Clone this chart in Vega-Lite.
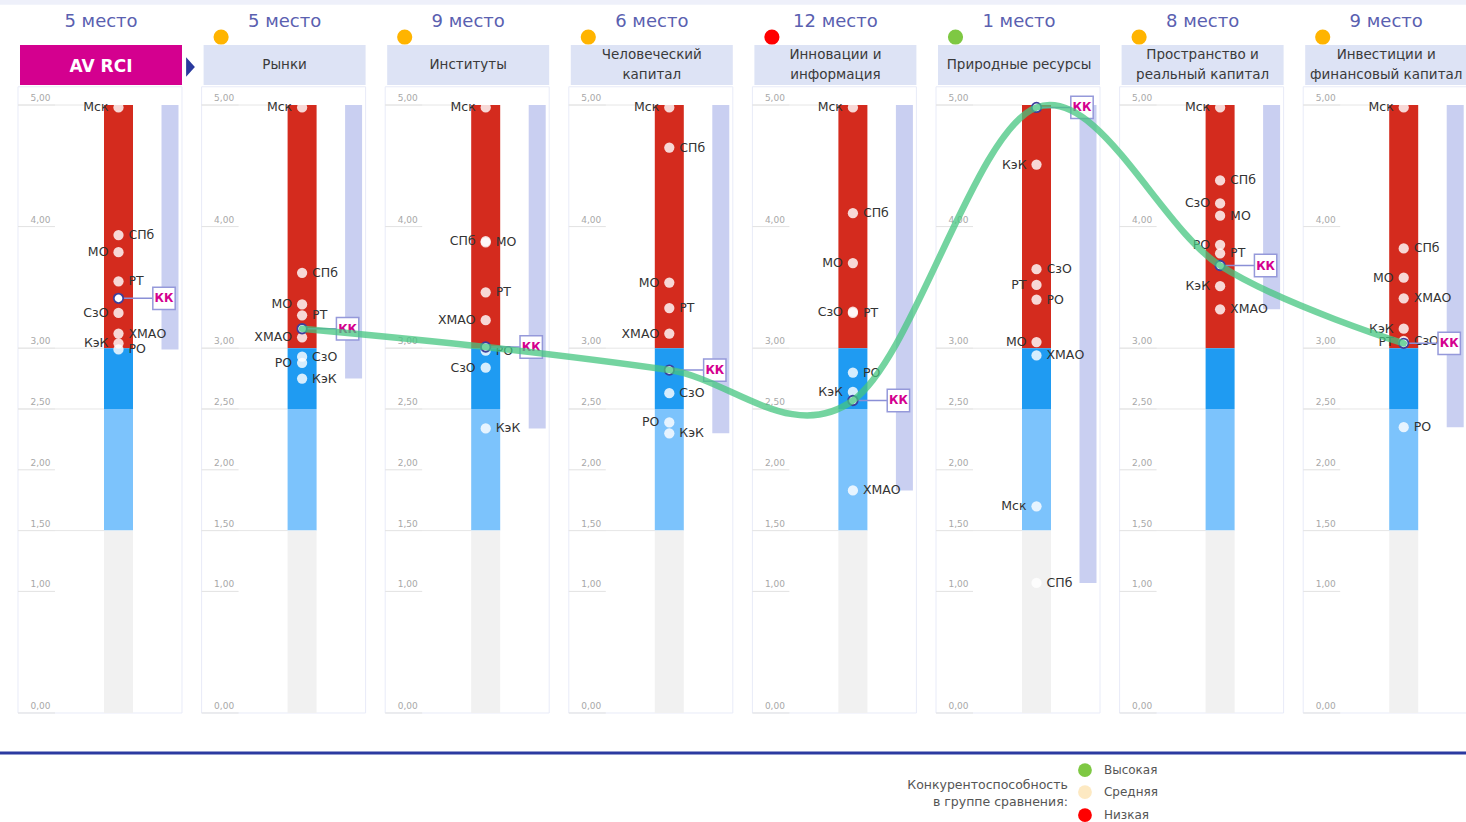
{
  "$schema": "https://vega.github.io/schema/vega-lite/v6.json",
  "width": 1466,
  "height": 822,
  "autosize": {"type": "none"},
  "padding": 0,
  "background": "white",
  "config": {"view": {"stroke": null}, "font": "DejaVu Sans"},
  "datasets": {
    "panels": [
      {"panel": 0, "name": "AV RCI", "rank": "5 место", "comp": null},
      {"panel": 1, "name": "Рынки", "rank": "5 место", "comp": "Средняя"},
      {"panel": 2, "name": "Институты", "rank": "9 место", "comp": "Средняя"},
      {"panel": 3, "name": "Человеческий\nкапитал", "rank": "6 место", "comp": "Средняя"},
      {"panel": 4, "name": "Инновации и\nинформация", "rank": "12 место", "comp": "Низкая"},
      {"panel": 5, "name": "Природные ресурсы", "rank": "1 место", "comp": "Высокая"},
      {"panel": 6, "name": "Пространство и\nреальный капитал", "rank": "8 место", "comp": "Средняя"},
      {"panel": 7, "name": "Инвестиции и\nфинансовый капитал", "rank": "9 место", "comp": "Средняя"}
    ],
    "bands": [
      {"band": "high", "lo": 3, "hi": 5, "panels": [0, 1, 2, 3, 4, 5, 6, 7]},
      {"band": "mid", "lo": 2.5, "hi": 3, "panels": [0, 1, 2, 3, 4, 5, 6, 7]},
      {"band": "low", "lo": 1.5, "hi": 2.5, "panels": [0, 1, 2, 3, 4, 5, 6, 7]},
      {"band": "none", "lo": 0, "hi": 1.5, "panels": [0, 1, 2, 3, 4, 5, 6, 7]}
    ],
    "ticks": [
      {"v": 5, "label": "5,00", "long": true, "panels": [0, 1, 2, 3, 4, 5, 6, 7]},
      {"v": 4, "label": "4,00", "long": false, "panels": [0, 1, 2, 3, 4, 5, 6, 7]},
      {"v": 3, "label": "3,00", "long": true, "panels": [0, 1, 2, 3, 4, 5, 6, 7]},
      {"v": 2.5, "label": "2,50", "long": true, "panels": [0, 1, 2, 3, 4, 5, 6, 7]},
      {"v": 2, "label": "2,00", "long": false, "panels": [0, 1, 2, 3, 4, 5, 6, 7]},
      {"v": 1.5, "label": "1,50", "long": true, "panels": [0, 1, 2, 3, 4, 5, 6, 7]},
      {"v": 1, "label": "1,00", "long": false, "panels": [0, 1, 2, 3, 4, 5, 6, 7]},
      {"v": 0, "label": "0,00", "long": false, "panels": [0, 1, 2, 3, 4, 5, 6, 7]}
    ],
    "dots": [
      {"panel": 0, "region": "Мск", "value": 4.98, "side": "L"},
      {"panel": 0, "region": "СПб", "value": 3.93, "side": "R"},
      {"panel": 0, "region": "МО", "value": 3.79, "side": "L"},
      {"panel": 0, "region": "РТ", "value": 3.55, "side": "R"},
      {"panel": 0, "region": "КК", "value": 3.41, "side": null},
      {"panel": 0, "region": "СзО", "value": 3.29, "side": "L"},
      {"panel": 0, "region": "ХМАО", "value": 3.12, "side": "R"},
      {"panel": 0, "region": "КэК", "value": 3.04, "side": "L"},
      {"panel": 0, "region": "РО", "value": 2.99, "side": "R"},

      {"panel": 1, "region": "Мск", "value": 4.98, "side": "L"},
      {"panel": 1, "region": "СПб", "value": 3.62, "side": "R"},
      {"panel": 1, "region": "МО", "value": 3.36, "side": "L"},
      {"panel": 1, "region": "РТ", "value": 3.27, "side": "R"},
      {"panel": 1, "region": "КК", "value": 3.16, "side": null},
      {"panel": 1, "region": "ХМАО", "value": 3.09, "side": "L"},
      {"panel": 1, "region": "СзО", "value": 2.93, "side": "R"},
      {"panel": 1, "region": "РО", "value": 2.88, "side": "L"},
      {"panel": 1, "region": "КэК", "value": 2.75, "side": "R"},

      {"panel": 2, "region": "Мск", "value": 4.98, "side": "L"},
      {"panel": 2, "region": "СПб", "value": 3.88, "side": "L"},
      {"panel": 2, "region": "МО", "value": 3.87, "side": "R"},
      {"panel": 2, "region": "РТ", "value": 3.46, "side": "R"},
      {"panel": 2, "region": "ХМАО", "value": 3.23, "side": "L"},
      {"panel": 2, "region": "КК", "value": 3.01, "side": null},
      {"panel": 2, "region": "РО", "value": 2.98, "side": "R"},
      {"panel": 2, "region": "СзО", "value": 2.84, "side": "L"},
      {"panel": 2, "region": "КэК", "value": 2.34, "side": "R"},

      {"panel": 3, "region": "Мск", "value": 4.98, "side": "L"},
      {"panel": 3, "region": "СПб", "value": 4.65, "side": "R"},
      {"panel": 3, "region": "МО", "value": 3.54, "side": "L"},
      {"panel": 3, "region": "РТ", "value": 3.33, "side": "R"},
      {"panel": 3, "region": "ХМАО", "value": 3.12, "side": "L"},
      {"panel": 3, "region": "КК", "value": 2.82, "side": null},
      {"panel": 3, "region": "СзО", "value": 2.63, "side": "R"},
      {"panel": 3, "region": "РО", "value": 2.39, "side": "L"},
      {"panel": 3, "region": "КэК", "value": 2.30, "side": "R"},

      {"panel": 4, "region": "Мск", "value": 4.98, "side": "L"},
      {"panel": 4, "region": "СПб", "value": 4.11, "side": "R"},
      {"panel": 4, "region": "МО", "value": 3.70, "side": "L"},
      {"panel": 4, "region": "СзО", "value": 3.30, "side": "L"},
      {"panel": 4, "region": "РТ", "value": 3.29, "side": "R"},
      {"panel": 4, "region": "РО", "value": 2.80, "side": "R"},
      {"panel": 4, "region": "КэК", "value": 2.64, "side": "L"},
      {"panel": 4, "region": "КК", "value": 2.57, "side": null},
      {"panel": 4, "region": "ХМАО", "value": 1.83, "side": "R"},

      {"panel": 5, "region": "КК", "value": 4.98, "side": null},
      {"panel": 5, "region": "КэК", "value": 4.51, "side": "L"},
      {"panel": 5, "region": "СзО", "value": 3.65, "side": "R"},
      {"panel": 5, "region": "РТ", "value": 3.52, "side": "L"},
      {"panel": 5, "region": "РО", "value": 3.40, "side": "R"},
      {"panel": 5, "region": "МО", "value": 3.05, "side": "L"},
      {"panel": 5, "region": "ХМАО", "value": 2.94, "side": "R"},
      {"panel": 5, "region": "Мск", "value": 1.70, "side": "L"},
      {"panel": 5, "region": "СПб", "value": 1.07, "side": "R"},

      {"panel": 6, "region": "Мск", "value": 4.98, "side": "L"},
      {"panel": 6, "region": "СПб", "value": 4.38, "side": "R"},
      {"panel": 6, "region": "СзО", "value": 4.19, "side": "L"},
      {"panel": 6, "region": "МО", "value": 4.09, "side": "R"},
      {"panel": 6, "region": "РО", "value": 3.85, "side": "L"},
      {"panel": 6, "region": "РТ", "value": 3.78, "side": "R"},
      {"panel": 6, "region": "КК", "value": 3.68, "side": null},
      {"panel": 6, "region": "КэК", "value": 3.51, "side": "L"},
      {"panel": 6, "region": "ХМАО", "value": 3.32, "side": "R"},

      {"panel": 7, "region": "Мск", "value": 4.98, "side": "L"},
      {"panel": 7, "region": "СПб", "value": 3.82, "side": "R"},
      {"panel": 7, "region": "МО", "value": 3.58, "side": "L"},
      {"panel": 7, "region": "ХМАО", "value": 3.41, "side": "R"},
      {"panel": 7, "region": "КэК", "value": 3.16, "side": "L"},
      {"panel": 7, "region": "СзО", "value": 3.06, "side": "R"},
      {"panel": 7, "region": "РТ", "value": 3.05, "side": "L"},
      {"panel": 7, "region": "КК", "value": 3.04, "side": null},
      {"panel": 7, "region": "РО", "value": 2.35, "side": "R"}
    ]
  },
  "layer": [
    {
      "data": {"values": [{}]},
      "mark": {"type": "rule", "color": "#eef0fa", "strokeWidth": 5},
      "encoding": {
        "y": {"datum": 5.845, "type": "quantitative", "scale": {"domain": [-0.8964, 5.8635], "nice": false, "zero": false}, "axis": null}
      }
    },
    {
      "data": {"name": "panels"},
      "mark": {"type": "rect", "fill": "white", "stroke": "#e8ebf8", "strokeWidth": 1, "xOffset": -100.5, "x2Offset": 63.5},
      "encoding": {
        "x": {"field": "panel", "type": "quantitative", "scale": {"domain": [-0.6454, 7.3393], "nice": false, "zero": false}, "axis": null},
        "x2": {"field": "panel"},
        "y": {"datum": 0, "type": "quantitative", "scale": {"domain": [-0.8964, 5.8635], "nice": false, "zero": false}, "axis": null},
        "y2": {"datum": 5.15}
      }
    },
    {
      "data": {"name": "ticks"},
      "transform": [{"flatten": ["panels"], "as": ["panel"]}],
      "mark": {"type": "rule", "color": "#e2e2e2", "strokeWidth": 1, "xOffset": -100.5, "x2Offset": -63.5},
      "encoding": {
        "x": {"field": "panel", "type": "quantitative", "scale": {"domain": [-0.6454, 7.3393], "nice": false, "zero": false}, "axis": null},
        "x2": {"field": "panel"},
        "y": {"field": "v", "type": "quantitative", "scale": {"domain": [-0.8964, 5.8635], "nice": false, "zero": false}, "axis": null}
      }
    },
    {
      "data": {"name": "ticks"},
      "transform": [{"flatten": ["panels"], "as": ["panel"]}, {"filter": "datum.long"}],
      "mark": {"type": "rule", "color": "#e6e6e6", "strokeWidth": 1, "xOffset": -100.5, "x2Offset": -14.5},
      "encoding": {
        "x": {"field": "panel", "type": "quantitative", "scale": {"domain": [-0.6454, 7.3393], "nice": false, "zero": false}, "axis": null},
        "x2": {"field": "panel"},
        "y": {"field": "v", "type": "quantitative", "scale": {"domain": [-0.8964, 5.8635], "nice": false, "zero": false}, "axis": null}
      }
    },
    {
      "data": {"name": "ticks"},
      "transform": [{"flatten": ["panels"], "as": ["panel"]}],
      "mark": {"type": "text", "fontSize": 9, "color": "#a8a8a8", "align": "center", "baseline": "bottom", "xOffset": -78, "dy": -2},
      "encoding": {
        "x": {"field": "panel", "type": "quantitative", "scale": {"domain": [-0.6454, 7.3393], "nice": false, "zero": false}, "axis": null},
        "y": {"field": "v", "type": "quantitative", "scale": {"domain": [-0.8964, 5.8635], "nice": false, "zero": false}, "axis": null},
        "text": {"field": "label"}
      }
    },
    {
      "data": {"name": "bands"},
      "transform": [{"flatten": ["panels"], "as": ["panel"]}],
      "mark": {"type": "rect", "xOffset": -14.5, "x2Offset": 14.5},
      "encoding": {
        "x": {"field": "panel", "type": "quantitative", "scale": {"domain": [-0.6454, 7.3393], "nice": false, "zero": false}, "axis": null},
        "x2": {"field": "panel"},
        "y": {"field": "lo", "type": "quantitative", "scale": {"domain": [-0.8964, 5.8635], "nice": false, "zero": false}, "axis": null},
        "y2": {"field": "hi"},
        "color": {"field": "band", "type": "nominal", "scale": {"domain": ["high", "mid", "low", "none"], "range": ["#d42b1e", "#1f9bf2", "#7cc3fc", "#f1f1f1"]}, "legend": null}
      }
    },
    {
      "data": {"name": "dots"},
      "transform": [{"aggregate": [{"op": "min", "field": "value", "as": "lo"}], "groupby": ["panel"]}],
      "mark": {"type": "rect", "color": "#c9cff1", "xOffset": 43, "x2Offset": 60},
      "encoding": {
        "x": {"field": "panel", "type": "quantitative", "scale": {"domain": [-0.6454, 7.3393], "nice": false, "zero": false}, "axis": null},
        "x2": {"field": "panel"},
        "y": {"field": "lo", "type": "quantitative", "scale": {"domain": [-0.8964, 5.8635], "nice": false, "zero": false}, "axis": null},
        "y2": {"datum": 5}
      }
    },
    {
      "data": {"name": "panels"},
      "mark": {"type": "rect", "xOffset": -98.5, "x2Offset": 63.5},
      "encoding": {
        "x": {"field": "panel", "type": "quantitative", "scale": {"domain": [-0.6454, 7.3393], "nice": false, "zero": false}, "axis": null},
        "x2": {"field": "panel"},
        "y": {"datum": 5.164, "type": "quantitative", "scale": {"domain": [-0.8964, 5.8635], "nice": false, "zero": false}, "axis": null},
        "y2": {"datum": 5.493},
        "color": {"condition": {"test": "datum.panel === 0", "value": "#d4008f"}, "value": "#dde3f5"}
      }
    },
    {
      "data": {"name": "panels"},
      "transform": [{"filter": "datum.panel === 0"}],
      "mark": {"type": "text", "fontSize": 17, "fontWeight": "bold", "color": "white", "align": "center", "baseline": "middle", "xOffset": -17.5},
      "encoding": {
        "x": {"field": "panel", "type": "quantitative", "scale": {"domain": [-0.6454, 7.3393], "nice": false, "zero": false}, "axis": null},
        "y": {"datum": 5.313, "type": "quantitative", "scale": {"domain": [-0.8964, 5.8635], "nice": false, "zero": false}, "axis": null},
        "text": {"field": "name"}
      }
    },
    {
      "data": {"name": "panels"},
      "transform": [{"filter": "datum.panel > 0 && indexof(datum.name, '\\n') < 0"}],
      "mark": {"type": "text", "fontSize": 13.5, "color": "#3a3a3a", "align": "center", "baseline": "middle", "xOffset": -17.5},
      "encoding": {
        "x": {"field": "panel", "type": "quantitative", "scale": {"domain": [-0.6454, 7.3393], "nice": false, "zero": false}, "axis": null},
        "y": {"datum": 5.329, "type": "quantitative", "scale": {"domain": [-0.8964, 5.8635], "nice": false, "zero": false}, "axis": null},
        "text": {"field": "name"}
      }
    },
    {
      "data": {"name": "panels"},
      "transform": [{"filter": "datum.panel > 0 && indexof(datum.name, '\\n') >= 0"}],
      "mark": {"type": "text", "fontSize": 13.5, "color": "#3a3a3a", "align": "center", "baseline": "middle", "lineBreak": "\n", "lineHeight": 20, "xOffset": -17.5},
      "encoding": {
        "x": {"field": "panel", "type": "quantitative", "scale": {"domain": [-0.6454, 7.3393], "nice": false, "zero": false}, "axis": null},
        "y": {"datum": 5.411, "type": "quantitative", "scale": {"domain": [-0.8964, 5.8635], "nice": false, "zero": false}, "axis": null},
        "text": {"field": "name"}
      }
    },
    {
      "data": {"name": "panels"},
      "mark": {"type": "text", "fontSize": 18, "color": "#5a60b0", "align": "center", "baseline": "middle", "xOffset": -17.5},
      "encoding": {
        "x": {"field": "panel", "type": "quantitative", "scale": {"domain": [-0.6454, 7.3393], "nice": false, "zero": false}, "axis": null},
        "y": {"datum": 5.683, "type": "quantitative", "scale": {"domain": [-0.8964, 5.8635], "nice": false, "zero": false}, "axis": null},
        "text": {"field": "rank"}
      }
    },
    {
      "data": {"name": "panels"},
      "transform": [{"filter": "datum.comp != null"}],
      "mark": {"type": "point", "shape": "circle", "filled": true, "size": 230, "opacity": 1, "strokeWidth": 0, "xOffset": -81},
      "encoding": {
        "x": {"field": "panel", "type": "quantitative", "scale": {"domain": [-0.6454, 7.3393], "nice": false, "zero": false}, "axis": null},
        "y": {"datum": 5.559, "type": "quantitative", "scale": {"domain": [-0.8964, 5.8635], "nice": false, "zero": false}, "axis": null},
        "fill": {"field": "comp", "type": "nominal", "scale": {"domain": ["Высокая", "Средняя", "Низкая"], "range": ["#7ec843", "#ffb400", "#ff0000"]}, "legend": null}
      }
    },
    {
      "data": {"values": [{}]},
      "mark": {"type": "point", "shape": "M -0.45 -1 L 0.45 0 L -0.45 1 Z", "size": 380, "filled": true, "color": "#2a3a9e", "opacity": 1, "xOffset": 72},
      "encoding": {
        "x": {"datum": 0, "type": "quantitative", "scale": {"domain": [-0.6454, 7.3393], "nice": false, "zero": false}, "axis": null},
        "y": {"datum": 5.313, "type": "quantitative", "scale": {"domain": [-0.8964, 5.8635], "nice": false, "zero": false}, "axis": null}
      }
    },
    {
      "data": {"name": "dots"},
      "transform": [{"filter": "datum.region !== 'КК'"}],
      "mark": {"type": "circle", "size": 105, "color": "white", "opacity": 0.82},
      "encoding": {
        "x": {"field": "panel", "type": "quantitative", "scale": {"domain": [-0.6454, 7.3393], "nice": false, "zero": false}, "axis": null},
        "y": {"field": "value", "type": "quantitative", "scale": {"domain": [-0.8964, 5.8635], "nice": false, "zero": false}, "axis": null}
      }
    },
    {
      "data": {"name": "dots"},
      "transform": [{"filter": "datum.side === 'L'"}],
      "mark": {"type": "text", "fontSize": 12.5, "color": "#333333", "align": "right", "baseline": "middle", "dx": -10},
      "encoding": {
        "x": {"field": "panel", "type": "quantitative", "scale": {"domain": [-0.6454, 7.3393], "nice": false, "zero": false}, "axis": null},
        "y": {"field": "value", "type": "quantitative", "scale": {"domain": [-0.8964, 5.8635], "nice": false, "zero": false}, "axis": null},
        "text": {"field": "region"}
      }
    },
    {
      "data": {"name": "dots"},
      "transform": [{"filter": "datum.side === 'R'"}],
      "mark": {"type": "text", "fontSize": 12.5, "color": "#333333", "align": "left", "baseline": "middle", "dx": 10},
      "encoding": {
        "x": {"field": "panel", "type": "quantitative", "scale": {"domain": [-0.6454, 7.3393], "nice": false, "zero": false}, "axis": null},
        "y": {"field": "value", "type": "quantitative", "scale": {"domain": [-0.8964, 5.8635], "nice": false, "zero": false}, "axis": null},
        "text": {"field": "region"}
      }
    },
    {
      "data": {"name": "dots"},
      "transform": [{"filter": "datum.region === 'КК'"}],
      "mark": {"type": "rule", "color": "#8a8fd6", "strokeWidth": 1.5, "x2Offset": 45.5},
      "encoding": {
        "x": {"field": "panel", "type": "quantitative", "scale": {"domain": [-0.6454, 7.3393], "nice": false, "zero": false}, "axis": null},
        "x2": {"field": "panel"},
        "y": {"field": "value", "type": "quantitative", "scale": {"domain": [-0.8964, 5.8635], "nice": false, "zero": false}, "axis": null}
      }
    },
    {
      "data": {"name": "dots"},
      "transform": [{"filter": "datum.region === 'КК'"}],
      "mark": {"type": "point", "shape": "circle", "size": 90, "filled": true, "fill": "white", "stroke": "#3c3f9c", "strokeWidth": 1.8, "opacity": 1},
      "encoding": {
        "x": {"field": "panel", "type": "quantitative", "scale": {"domain": [-0.6454, 7.3393], "nice": false, "zero": false}, "axis": null},
        "y": {"field": "value", "type": "quantitative", "scale": {"domain": [-0.8964, 5.8635], "nice": false, "zero": false}, "axis": null}
      }
    },
    {
      "data": {"name": "dots"},
      "transform": [{"filter": "datum.region === 'КК'"}],
      "mark": {"type": "point", "shape": "square", "size": 500, "filled": true, "fill": "white", "stroke": "#9599da", "strokeWidth": 1.5, "opacity": 1, "xOffset": 45.5},
      "encoding": {
        "x": {"field": "panel", "type": "quantitative", "scale": {"domain": [-0.6454, 7.3393], "nice": false, "zero": false}, "axis": null},
        "y": {"field": "value", "type": "quantitative", "scale": {"domain": [-0.8964, 5.8635], "nice": false, "zero": false}, "axis": null}
      }
    },
    {
      "data": {"name": "dots"},
      "transform": [{"filter": "datum.region === 'КК'"}],
      "mark": {"type": "text", "fontSize": 11.5, "fontWeight": "bold", "color": "#d4008f", "align": "center", "baseline": "middle", "xOffset": 45.5, "dy": 1},
      "encoding": {
        "x": {"field": "panel", "type": "quantitative", "scale": {"domain": [-0.6454, 7.3393], "nice": false, "zero": false}, "axis": null},
        "y": {"field": "value", "type": "quantitative", "scale": {"domain": [-0.8964, 5.8635], "nice": false, "zero": false}, "axis": null},
        "text": {"field": "region"}
      }
    },
    {
      "data": {"name": "dots"},
      "transform": [{"filter": "datum.region === 'КК' && datum.panel >= 1"}],
      "mark": {"type": "line", "interpolate": "cardinal", "color": "#45c680", "opacity": 0.75, "strokeWidth": 6.5, "strokeCap": "round"},
      "encoding": {
        "x": {"field": "panel", "type": "quantitative", "scale": {"domain": [-0.6454, 7.3393], "nice": false, "zero": false}, "axis": null},
        "y": {"field": "value", "type": "quantitative", "scale": {"domain": [-0.8964, 5.8635], "nice": false, "zero": false}, "axis": null},
        "order": {"field": "panel", "type": "quantitative"}
      }
    },
    {
      "data": {"values": [{}]},
      "mark": {"type": "rule", "color": "#2b3aa0", "strokeWidth": 3},
      "encoding": {
        "y": {"datum": -0.329, "type": "quantitative", "scale": {"domain": [-0.8964, 5.8635], "nice": false, "zero": false}, "axis": null}
      }
    },
    {
      "data": {"values": [{"t": "Конкурентоспособность\nв группе сравнения:"}]},
      "mark": {"type": "text", "fontSize": 12.5, "color": "#555555", "align": "right", "baseline": "middle", "lineBreak": "\n", "lineHeight": 17},
      "encoding": {
        "x": {"datum": 5.171, "type": "quantitative", "scale": {"domain": [-0.6454, 7.3393], "nice": false, "zero": false}, "axis": null},
        "y": {"datum": -0.592, "type": "quantitative", "scale": {"domain": [-0.8964, 5.8635], "nice": false, "zero": false}, "axis": null},
        "text": {"field": "t"}
      }
    },
    {
      "data": {"values": [{"level": "Высокая"}]},
      "encoding": {
        "x": {"datum": 5.264, "type": "quantitative", "scale": {"domain": [-0.6454, 7.3393], "nice": false, "zero": false}, "axis": null},
        "y": {"datum": -0.469, "type": "quantitative", "scale": {"domain": [-0.8964, 5.8635], "nice": false, "zero": false}, "axis": null}
      },
      "layer": [
        {"mark": {"type": "circle", "size": 190, "color": "#7ec843", "opacity": 1}},
        {"mark": {"type": "text", "fontSize": 12, "color": "#555555", "align": "left", "baseline": "middle", "dx": 19}, "encoding": {"text": {"field": "level"}}}
      ]
    },
    {
      "data": {"values": [{"level": "Средняя"}]},
      "encoding": {
        "x": {"datum": 5.264, "type": "quantitative", "scale": {"domain": [-0.6454, 7.3393], "nice": false, "zero": false}, "axis": null},
        "y": {"datum": -0.650, "type": "quantitative", "scale": {"domain": [-0.8964, 5.8635], "nice": false, "zero": false}, "axis": null}
      },
      "layer": [
        {"mark": {"type": "circle", "size": 190, "color": "#fde9c2", "opacity": 1}},
        {"mark": {"type": "text", "fontSize": 12, "color": "#555555", "align": "left", "baseline": "middle", "dx": 19}, "encoding": {"text": {"field": "level"}}}
      ]
    },
    {
      "data": {"values": [{"level": "Низкая"}]},
      "encoding": {
        "x": {"datum": 5.264, "type": "quantitative", "scale": {"domain": [-0.6454, 7.3393], "nice": false, "zero": false}, "axis": null},
        "y": {"datum": -0.839, "type": "quantitative", "scale": {"domain": [-0.8964, 5.8635], "nice": false, "zero": false}, "axis": null}
      },
      "layer": [
        {"mark": {"type": "circle", "size": 190, "color": "#ff0000", "opacity": 1}},
        {"mark": {"type": "text", "fontSize": 12, "color": "#555555", "align": "left", "baseline": "middle", "dx": 19}, "encoding": {"text": {"field": "level"}}}
      ]
    }
  ]
}
